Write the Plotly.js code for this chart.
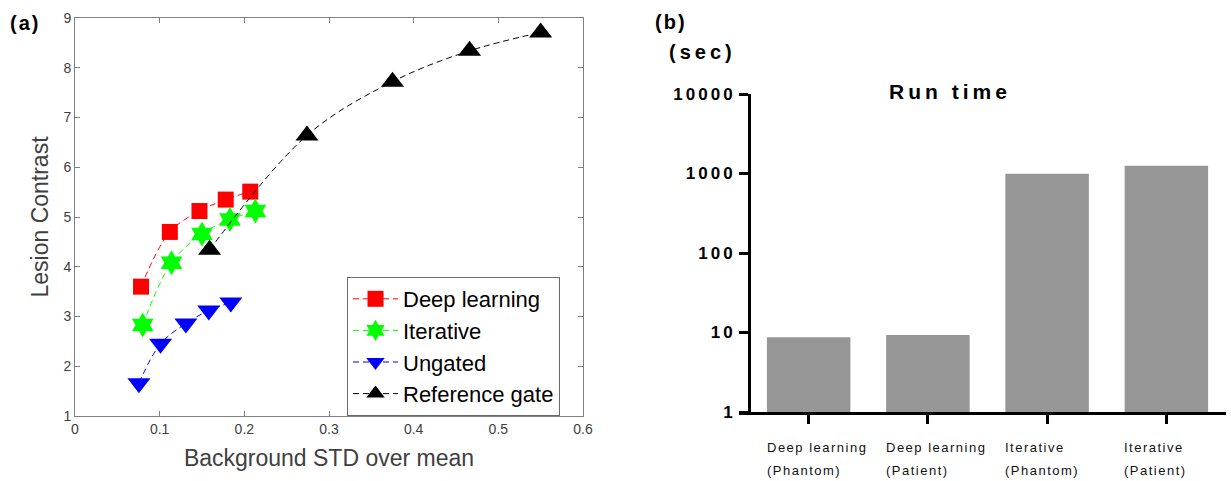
<!DOCTYPE html>
<html><head><meta charset="utf-8">
<script src="https://cdn.plot.ly/plotly-3.0.1.min.js"></script>
<style>html,body{margin:0;padding:0;background:#fff}#plot{width:1231px;height:481px}</style>
</head><body><div id="plot"></div>
<script>
// ---- Panel (a): lesion contrast vs background noise ----
const dlX = [0.078, 0.112, 0.147, 0.178, 0.207];
const dlY = [3.60, 4.70, 5.12, 5.35, 5.51];
const itX = [0.080, 0.114, 0.150, 0.183, 0.213];
const itY = [2.83, 4.08, 4.66, 4.95, 5.12];
const ugX = [0.0755, 0.101, 0.131, 0.158, 0.184];
const ugY = [1.66, 2.45, 2.86, 3.12, 3.28];
const rgX = [0.159, 0.274, 0.375, 0.466, 0.550];
const rgY = [4.34, 6.64, 7.72, 8.34, 8.71];
const seriesNames = ['Deep learning', 'Iterative', 'Ungated', 'Reference gate'];

// ---- Panel (b): run time ----
const runCats = ['Deep learning (Phantom)', 'Deep learning (Patient)', 'Iterative (Phantom)', 'Iterative (Patient)'];
const runLine1 = ['Deep learning', 'Deep learning', 'Iterative', 'Iterative'];
const runLine2 = ['(Phantom)', '(Patient)', '(Phantom)', '(Patient)'];
const runTimes = [8.7, 9.3, 990, 1250];
const logTickVals = [1, 10, 100, 1000, 10000];
const logTickText = ['1', '10', '100', '1000', '10000'];

const W = 1231, H = 481;
const px = v => v / W;
const py = v => 1 - v / H;
const SANS = '"Liberation Sans", Arial, sans-serif';
const dash = '6px,4px';

function lineTrace(x, y, name, color, symbol, size) {
  return {
    type: 'scatter', mode: 'lines+markers', x: x, y: y, name: name,
    xaxis: 'x', yaxis: 'y',
    line: {color: color, width: 1, dash: dash, shape: 'spline', smoothing: 1},
    marker: {color: color, symbol: symbol, size: size, line: {width: 0}}
  };
}

const traces = [
  lineTrace(dlX, dlY, seriesNames[0], '#ff0000', 'square', 16),
  lineTrace(itX, itY, seriesNames[1], '#00ff00', 'hexagram', 19),
  lineTrace(ugX, ugY, seriesNames[2], '#0000ff', 'triangle-down', 20),
  lineTrace(rgX, rgY, seriesNames[3], '#000000', 'triangle-up', 20),
  {
    type: 'bar', x: runCats.map((c, i) => i), y: runTimes, xaxis: 'x2', yaxis: 'y2',
    marker: {color: '#969696', line: {width: 0}}, width: 0.7, showlegend: false
  }
];

const annotations = [
  {text: '<span style="letter-spacing:2px">(a)</span>', xref: 'paper', yref: 'paper', x: px(8), y: py(23),
   xanchor: 'left', yanchor: 'middle', showarrow: false, font: {family: SANS, size: 20, color: '#000', weight: 'bold'}},
  {text: '<span style="letter-spacing:2px">(b)</span>', xref: 'paper', yref: 'paper', x: px(653), y: py(22),
   xanchor: 'left', yanchor: 'middle', showarrow: false, font: {family: SANS, size: 20, color: '#000', weight: 'bold'}},
  {text: '<span style="letter-spacing:4px">(sec)</span>', xref: 'paper', yref: 'paper', x: px(667), y: py(52),
   xanchor: 'left', yanchor: 'middle', showarrow: false, font: {family: SANS, size: 20, color: '#000', weight: 'bold'}},
  {text: '<span style="letter-spacing:4px">Run time</span>', xref: 'paper', yref: 'paper', x: px(950), y: py(91),
   xanchor: 'center', yanchor: 'middle', showarrow: false, font: {family: SANS, size: 21, color: '#000', weight: 'bold'}}
];
runCats.forEach((c, i) => {
  annotations.push({text: '<span style="letter-spacing:1.5px">' + runLine1[i] + '</span>', xref: 'x2', yref: 'paper',
    x: i, xshift: -44, y: py(447), xanchor: 'left', yanchor: 'middle', align: 'left', showarrow: false,
    font: {family: SANS, size: 13, color: '#111'}});
  annotations.push({text: '<span style="letter-spacing:1.5px">' + runLine2[i] + '</span>', xref: 'x2', yref: 'paper',
    x: i, xshift: -44, y: py(470), xanchor: 'left', yanchor: 'middle', align: 'left', showarrow: false,
    font: {family: SANS, size: 13, color: '#111'}});
});

const gray = '#808080';
const layout = {
  width: W, height: H,
  margin: {l: 0, r: 0, t: 0, b: 0, pad: 0},
  paper_bgcolor: '#fff', plot_bgcolor: 'rgba(0,0,0,0)',
  font: {family: SANS, color: '#404040'},
  showlegend: true,
  legend: {
    x: px(347), y: py(277), xanchor: 'left', yanchor: 'top',
    bgcolor: '#fff', bordercolor: '#6a6a6a', borderwidth: 1,
    font: {family: SANS, size: 22, color: '#000'}, itemwidth: 45, tracegroupgap: 0
  },
  xaxis: {
    domain: [px(75), px(583)], range: [0, 0.6], dtick: 0.1, tick0: 0,
    showline: true, linecolor: gray, linewidth: 1, mirror: 'ticks',
    ticks: 'inside', ticklen: 5, tickcolor: gray, tickwidth: 1,
    showgrid: false, zeroline: false, anchor: 'y',
    tickfont: {family: SANS, size: 14, color: '#404040'},
    title: {text: 'Background STD over mean', font: {family: SANS, size: 23, color: '#404040'}, standoff: 14}
  },
  yaxis: {
    domain: [py(416), py(18)], range: [1, 9], dtick: 1, tick0: 1,
    showline: true, linecolor: gray, linewidth: 1, mirror: 'ticks',
    ticks: 'inside', ticklen: 5, tickcolor: gray, tickwidth: 1,
    showgrid: false, zeroline: false, anchor: 'x',
    tickfont: {family: SANS, size: 14, color: '#404040'},
    title: {text: 'Lesion Contrast', font: {family: SANS, size: 23, color: '#404040'}, standoff: 8}
  },
  xaxis2: {
    domain: [px(739), px(1226)], range: [-0.584, 3.5],
    tickmode: 'array', tickvals: [0, 1, 2, 3], showticklabels: false,
    showline: true, linecolor: '#000', linewidth: 3,
    ticks: 'outside', ticklen: 9, tickwidth: 3, tickcolor: '#000',
    showgrid: false, zeroline: false, anchor: 'y2'
  },
  yaxis2: {
    type: 'log', domain: [py(412), py(94)], range: [0, 4],
    anchor: 'free', position: px(749),
    tickmode: 'array', tickvals: logTickVals,
    ticktext: logTickText.map(t => '<span style="letter-spacing:3px">' + t + '</span>'),
    showline: true, linecolor: '#000', linewidth: 3,
    ticks: 'outside', ticklen: 9, tickwidth: 3, tickcolor: '#000',
    showgrid: false, zeroline: false,
    tickfont: {family: SANS, size: 17, color: '#000', weight: 'bold'}
  },
  annotations: annotations
};

Plotly.newPlot('plot', traces, layout, {displayModeBar: false, staticPlot: true});
</script>
</body></html>
